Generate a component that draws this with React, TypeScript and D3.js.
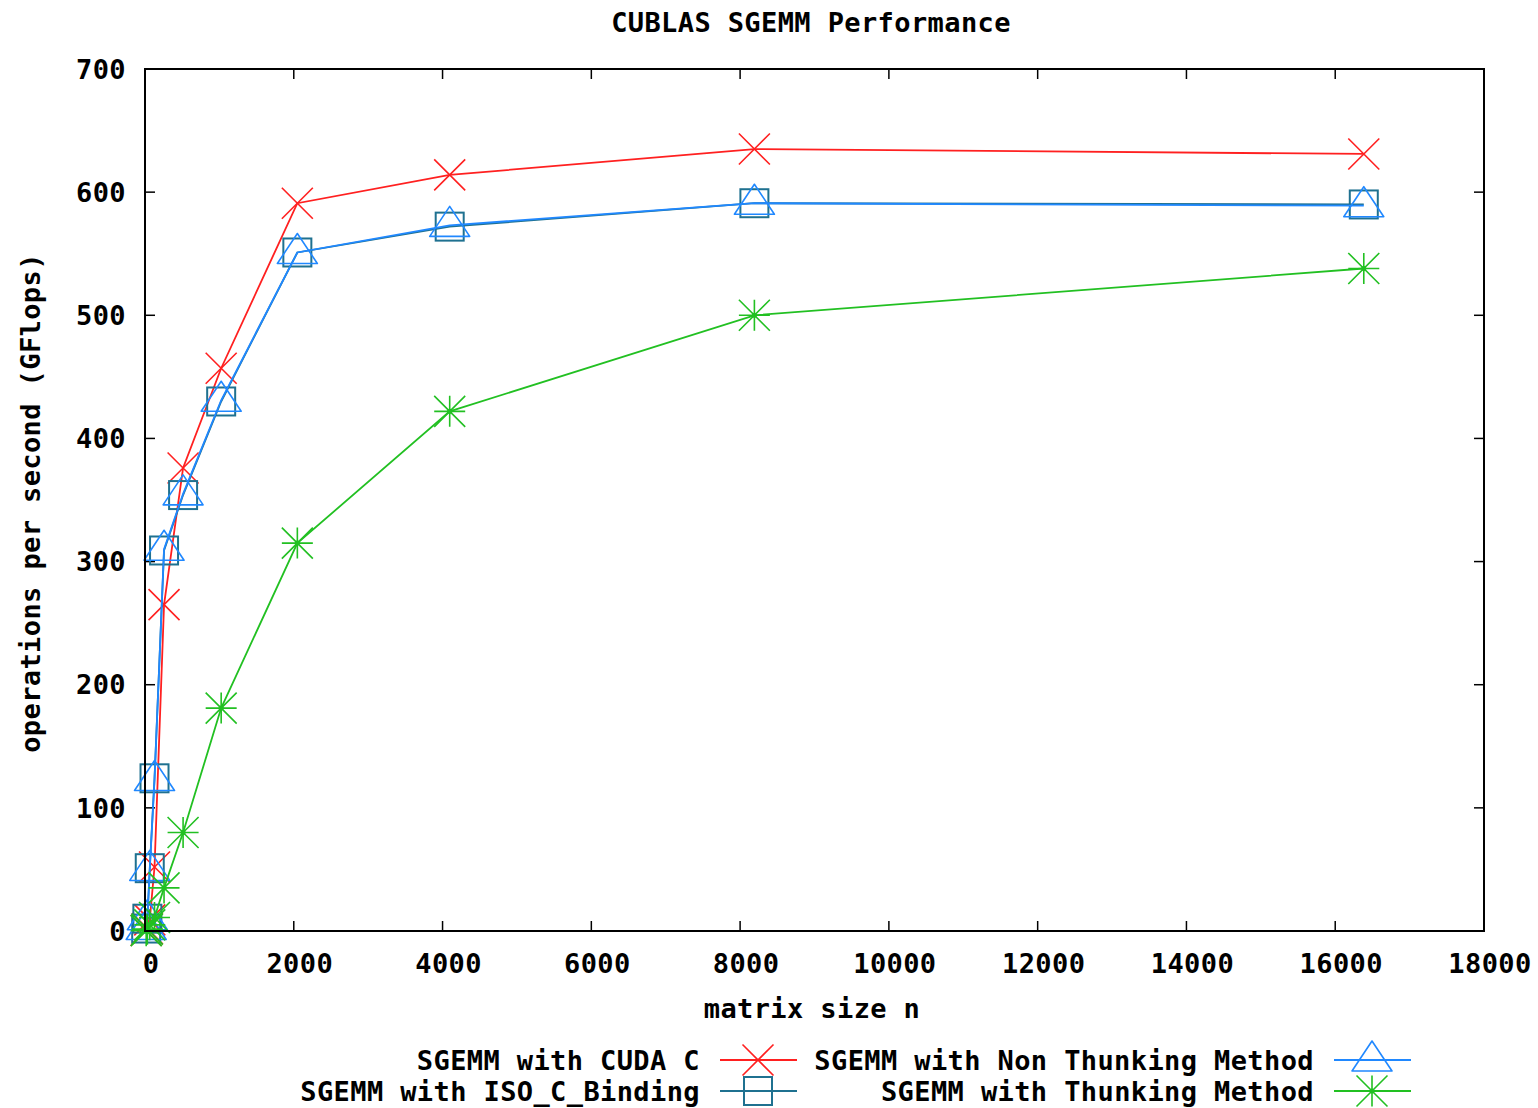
import React, { useRef, useEffect } from "react";
import * as d3 from "d3";

const W = 1538;
const H = 1108;
const FONT = "'DejaVu Sans Mono', monospace";

// matrix sizes n
const SIZES = [16, 32, 64, 128, 256, 512, 1024, 2048, 4096, 8192, 16384];
// GFlops per series
const CUDA_C = [0.5, 2, 9, 52, 265, 376, 457, 591, 614, 635, 631];
const ISO_C_BINDING = [2, 10, 51, 124, 309, 354, 430, 551, 572, 591, 590];
const NON_THUNKING = [2, 10, 50, 123, 310, 355, 431, 551, 573, 591, 589];
const THUNKING = [0.3, 1.5, 5, 11, 35, 80, 181, 315, 422, 500, 538];

const X_TICKS = [0, 2000, 4000, 6000, 8000, 10000, 12000, 14000, 16000, 18000];
const Y_TICKS = [0, 100, 200, 300, 400, 500, 600, 700];

type Marker = "x" | "square" | "triangle" | "star";

interface Series {
  label: string;
  values: number[];
  color: string;
  marker: Marker;
}

const SERIES: Series[] = [
  { label: "SGEMM with CUDA C", values: CUDA_C, color: "#ff2020", marker: "x" },
  { label: "SGEMM with ISO_C_Binding", values: ISO_C_BINDING, color: "#1f7190", marker: "square" },
  { label: "SGEMM with Non Thunking Method", values: NON_THUNKING, color: "#2088ff", marker: "triangle" },
  { label: "SGEMM with Thunking Method", values: THUNKING, color: "#22c022", marker: "star" },
];

const M = { top: 69, right: 54, bottom: 177, left: 145 };

function drawMarker(
  g: d3.Selection<SVGGElement, unknown, null, undefined>,
  kind: Marker, cx: number, cy: number, color: string
) {
  if (kind === "x") {
    const r = 15.5;
    g.append("path")
      .attr("d", `M${cx - r},${cy - r}L${cx + r},${cy + r}M${cx - r},${cy + r}L${cx + r},${cy - r}`)
      .attr("stroke", color).attr("stroke-width", 1.6).attr("fill", "none");
  } else if (kind === "square") {
    g.append("rect")
      .attr("x", cx - 14).attr("y", cy - 14).attr("width", 28).attr("height", 28)
      .attr("stroke", color).attr("stroke-width", 2).attr("fill", "none");
  } else if (kind === "triangle") {
    g.append("path")
      .attr("d", `M${cx},${cy - 19}L${cx + 20},${cy + 11}L${cx - 20},${cy + 11}Z`)
      .attr("stroke", color).attr("stroke-width", 1.6).attr("fill", "none")
      .attr("stroke-linejoin", "round");
  } else {
    const r = 15.5;
    g.append("path")
      .attr("d",
        `M${cx - r},${cy - r}L${cx + r},${cy + r}M${cx - r},${cy + r}L${cx + r},${cy - r}` +
        `M${cx},${cy - r}L${cx},${cy + r}M${cx - r},${cy}L${cx + r},${cy}`)
      .attr("stroke", color).attr("stroke-width", 1.6).attr("fill", "none");
    g.append("circle").attr("cx", cx).attr("cy", cy).attr("r", 2.5).attr("fill", color);
  }
}

const App: React.FC = () => {
  const svgRef = useRef<SVGSVGElement>(null);

  useEffect(() => {
    const svgEl = svgRef.current;
    if (!svgEl) return;
    const svg = d3.select(svgEl);
    svg.selectAll("*").remove();

    const iW = W - M.left - M.right;
    const iH = H - M.top - M.bottom;

    const x = d3.scaleLinear().domain([0, 18000]).range([M.left, M.left + iW]);
    const y = d3.scaleLinear().domain([0, 700]).range([M.top + iH, M.top]);

    const root = svg.append("g");
    const txt = (sel: d3.Selection<SVGTextElement, unknown, null, undefined>) =>
      sel.attr("font-family", FONT).attr("font-weight", "bold")
        .attr("font-size", 27).attr("letter-spacing", 0.4).attr("fill", "#000");

    // Title
    root.append("text").call(txt)
      .attr("x", 811).attr("y", 32).attr("text-anchor", "middle")
      .text("CUBLAS SGEMM Performance");

    // Ticks (inward, mirrored on all four sides)
    const tickLen = 10;
    const ticks = root.append("g").attr("stroke", "#000").attr("stroke-width", 1.5);
    X_TICKS.slice(1, -1).forEach(v => {
      ticks.append("line").attr("x1", x(v)).attr("x2", x(v))
        .attr("y1", y(0)).attr("y2", y(0) - tickLen);
      ticks.append("line").attr("x1", x(v)).attr("x2", x(v))
        .attr("y1", y(700)).attr("y2", y(700) + tickLen);
    });
    Y_TICKS.slice(1, -1).forEach(v => {
      ticks.append("line").attr("x1", x(0)).attr("x2", x(0) + tickLen)
        .attr("y1", y(v)).attr("y2", y(v));
      ticks.append("line").attr("x1", x(18000)).attr("x2", x(18000) - tickLen)
        .attr("y1", y(v)).attr("y2", y(v));
    });

    // Tick labels (gnuplot puts them a few px right of the tick)
    X_TICKS.forEach(v => {
      root.append("text").call(txt)
        .attr("x", x(v) + 6).attr("y", 973).attr("text-anchor", "middle")
        .text(String(v));
    });
    Y_TICKS.forEach(v => {
      root.append("text").call(txt)
        .attr("x", 126).attr("y", y(v)).attr("dy", "0.36em").attr("text-anchor", "end")
        .text(String(v));
    });

    // Axis labels
    root.append("text").call(txt)
      .attr("x", 812).attr("y", 1018).attr("text-anchor", "middle")
      .text("matrix size n");
    root.append("text").call(txt)
      .attr("transform", "translate(40,503) rotate(-90)")
      .attr("text-anchor", "middle")
      .text("operations per second (GFlops)");

    // Series lines + markers
    const line = d3.line<number>()
      .x((_, i) => x(SIZES[i]))
      .y(d => y(d));

    SERIES.forEach(s => {
      const g = root.append("g");
      g.append("path")
        .datum(s.values)
        .attr("d", line)
        .attr("fill", "none")
        .attr("stroke", s.color)
        .attr("stroke-width", 1.8);
      s.values.forEach((v, i) => drawMarker(g, s.marker, x(SIZES[i]), y(v), s.color));
    });

    // Plot border
    root.append("rect")
      .attr("x", x(0)).attr("y", y(700))
      .attr("width", x(18000) - x(0)).attr("height", y(0) - y(700))
      .attr("fill", "none").attr("stroke", "#000").attr("stroke-width", 2);

    // Legend: two columns, two rows
    const legendPos = [
      { tx: 700, ly: 1060 },
      { tx: 700, ly: 1091 },
      { tx: 1314, ly: 1060 },
      { tx: 1314, ly: 1091 },
    ];
    SERIES.forEach((s, i) => {
      const { tx, ly } = legendPos[i];
      root.append("text").call(txt)
        .attr("x", tx).attr("y", ly).attr("dy", "0.36em").attr("text-anchor", "end")
        .text(s.label);
      const g = root.append("g");
      g.append("line")
        .attr("x1", tx + 20).attr("x2", tx + 97)
        .attr("y1", ly).attr("y2", ly)
        .attr("stroke", s.color).attr("stroke-width", 1.8);
      drawMarker(g, s.marker, tx + 58, ly, s.color);
    });
  }, []);

  return (
    <svg
      ref={svgRef}
      width={W}
      height={H}
      style={{ position: "absolute", left: 0, top: 0, display: "block", background: "#fff" }}
    />
  );
};

export default App;
